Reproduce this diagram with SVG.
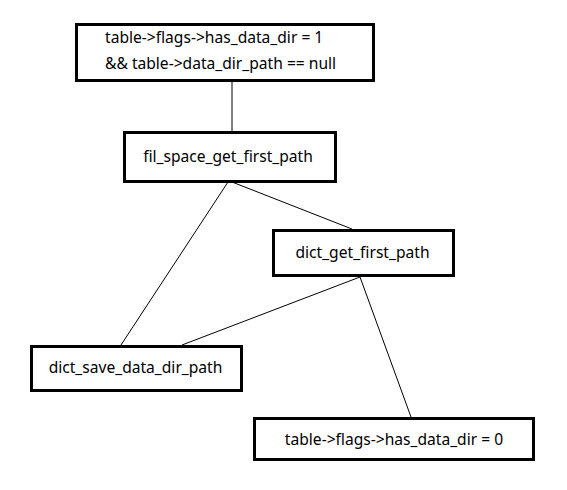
<svg xmlns="http://www.w3.org/2000/svg" width="567" height="490" viewBox="0 0 567 490">
<style>
.box{fill:#fff;stroke:#000;stroke-width:3}
.t{font-family:"Noto Sans","DejaVu Sans",sans-serif;font-size:15.6px;fill:#000}
.c{text-anchor:middle}
.edge{stroke:#000;stroke-width:1;fill:none}
</style>
<rect width="567" height="490" fill="#fff"/>
<g id="connectors">
<line class="edge" x1="232" y1="82" x2="232" y2="131"/>
<line class="edge" x1="232" y1="182" x2="352" y2="229"/>
<line class="edge" x1="228" y1="182" x2="121" y2="345"/>
<line class="edge" x1="360" y1="277" x2="182" y2="345"/>
<line class="edge" x1="360" y1="277" x2="411" y2="417"/>
</g>
<g id="n1">
<rect class="box" x="76.5" y="24.5" width="297" height="56"/>
<text class="t" x="105" y="43">table-&gt;flags-&gt;has_data_dir = 1</text>
<text class="t" x="105" y="69">&amp;&amp; table-&gt;data_dir_path == null</text>
</g>
<g id="n2">
<rect class="box" x="124.5" y="132.5" width="211" height="49"/>
<text class="t c" x="228" y="162">fil_space_get_first_path</text>
</g>
<g id="n3">
<rect class="box" x="273.5" y="230.5" width="180" height="45"/>
<text class="t c" x="362.5" y="258">dict_get_first_path</text>
</g>
<g id="n4">
<rect class="box" x="31.5" y="346.5" width="210" height="44"/>
<text class="t c" x="135.5" y="373">dict_save_data_dir_path</text>
</g>
<g id="n5">
<rect class="box" x="254.5" y="418.5" width="279" height="41"/>
<text class="t c" x="394" y="445">table-&gt;flags-&gt;has_data_dir = 0</text>
</g>
</svg>
